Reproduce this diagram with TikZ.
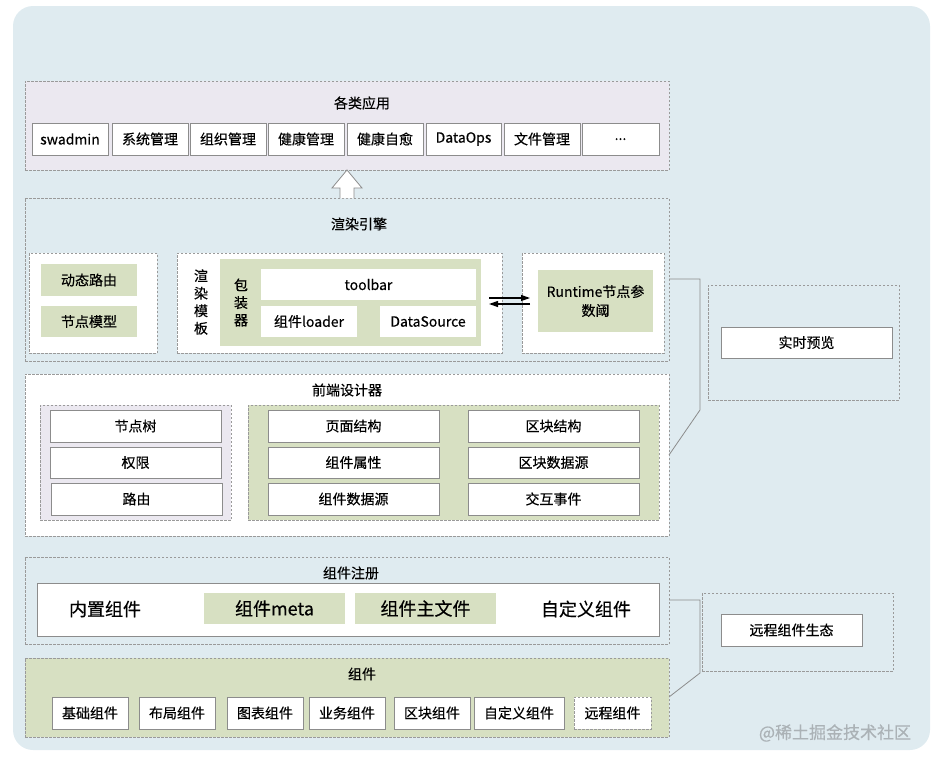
\documentclass[tikz,border=0pt]{standalone}
\usepackage{fontspec}
\setmainfont{Noto Sans CJK SC}[FakeBold=0.35]
\usetikzlibrary{arrows.meta}
\definecolor{bg}{HTML}{DFEBF0}
\definecolor{lav}{HTML}{EBE8F0}
\definecolor{grn}{HTML}{D7E0C2}
\definecolor{dline}{HTML}{9A9A9A}
\definecolor{bline}{HTML}{8C8C8C}
\definecolor{wm}{HTML}{ABB2B6}
\newcommand{\bx}[7]{\node[#1, minimum width={(#5-#3)*1pt}, minimum height={(#6-#4)*1pt}] (#2) at ({(#3+#5)/2},{(#4+#6)/2}) {#7};}
\tikzset{
  box/.style={inner sep=0pt, outer sep=0pt, font=\fontsize{14}{17}\selectfont, text=black},
  dsh/.style={box, draw=dline, line width=0.9pt, dash pattern=on 2.5pt off 1.5pt},
  wb/.style={box, draw=bline, fill=white, line width=0.9pt},
  gb/.style={box, fill=grn},
  txt/.style={inner sep=0pt, font=\fontsize{14}{17}\selectfont, text=black},
  big/.style={inner sep=0pt, font=\fontsize{18}{21}\selectfont, text=black},
  conn/.style={draw=bline, line width=0.8pt},
  arr/.style={draw=black, line width=1.2pt, -{Triangle[length=9pt,width=6pt]}},
}
\begin{document}
\begin{tikzpicture}[x=1pt,y=-1pt]
\useasboundingbox (0,0) rectangle (937,763);
\fill[bg, rounded corners=20pt] (13,6) rectangle (930,750);

% ---------- apps ----------
\bx{dsh, fill=lav}{apps}{25}{81}{669}{170}{}
\node[txt] (tapps) at (362,103) {各类应用};
\bx{wb}{a1}{32}{123}{108}{155}{swadmin}
\bx{wb}{a2}{112}{123}{188}{155}{系统管理}
\bx{wb}{a3}{190}{123}{266}{155}{组织管理}
\bx{wb}{a4}{268}{123}{344}{155}{健康管理}
\bx{wb}{a5}{347}{123}{423}{155}{健康自愈}
\bx{wb}{a6}{426}{123}{501}{155}{DataOps}
\bx{wb}{a7}{504}{123}{580}{155}{文件管理}
\bx{wb}{a8}{582}{123}{659}{155}{\raisebox{-2pt}{...}}

% ---------- render engine ----------
\bx{dsh}{engine}{25}{198}{669}{361}{}
\draw[draw=bline, fill=white, line width=0.8pt] (340,198) -- (340,188) -- (332,188) -- (347,170) -- (362,188) -- (354,188) -- (354,198);
\node[txt] (tengine) at (359,224) {渲染引擎};
\bx{dsh, fill=white}{eleft}{29}{253}{157}{353}{}
\bx{gb}{route}{41}{264}{137}{296}{动态路由}
\bx{gb}{model}{41}{306}{137}{337}{节点模型}
\bx{dsh, fill=white}{emid}{177}{253}{502}{353}{}
\node[txt, align=center, font=\fontsize{14}{17.5}\selectfont] (tpl) at (201,302) {渲\\染\\模\\板};
\bx{gb}{wrap}{220}{259}{481}{346}{}
\node[txt, align=center, font=\fontsize{14}{17.5}\selectfont] (wrapt) at (241,302.5) {包\\装\\器};
\bx{box, fill=white}{toolbar}{261}{269}{476}{300}{toolbar}
\bx{box, fill=white}{loader}{261}{306}{357}{337}{组件loader}
\bx{box, fill=white}{dsrc}{380}{306}{476}{337}{DataSource}
\bx{dsh, fill=white}{eright}{522}{253}{664}{353}{}
\bx{gb, align=center, font=\fontsize{14}{19}\selectfont}{runtime}{538}{270}{653}{332}{Runtime节点参\\数阈}
\coordinate (p1) at (489,298);
\coordinate (p2) at (530,298);
\coordinate (p3) at (530,304);
\coordinate (p4) at (489,304);
\draw[arr] (p1) -- (p2);
\draw[arr] (p3) -- (p4);

% ---------- preview ----------
\bx{dsh}{prevout}{708}{285}{899}{400}{}
\bx{wb}{preview}{721}{327}{892}{358}{实时预览}

% ---------- designer ----------
\bx{dsh, fill=white}{designer}{25}{374}{669}{536}{}
\node[txt] (tdes) at (347,390) {前端设计器};
\bx{dsh, fill=lav}{dleft}{40}{405}{231}{520}{}
\bx{wb}{d1}{50}{410}{221}{442}{节点树}
\bx{wb}{d2}{50}{447}{221}{478}{权限}
\bx{wb}{d3}{51}{483}{222}{515}{路由}
\bx{dsh, fill=grn}{dright}{248}{405}{659}{520}{}
\bx{wb}{d4}{268}{410}{439}{442}{页面结构}
\bx{wb}{d5}{268}{447}{439}{478}{组件属性}
\bx{wb}{d6}{268}{483}{439}{515}{组件数据源}
\bx{wb}{d7}{468}{410}{639}{442}{区块结构}
\bx{wb}{d8}{468}{447}{639}{478}{区块数据源}
\bx{wb}{d9}{468}{483}{639}{515}{交互事件}

\draw[conn] (engine.east |- 0,279) -- (700,279) -- (700,410) -- (designer.east |- 0,455);

% ---------- registration ----------
\bx{dsh}{reg}{25}{557}{669}{644}{}
\node[txt] (treg) at (351,573) {组件注册};
\bx{wb}{regin}{37}{583}{659}{636}{}
\node[big] (builtin) at (105,609) {内置组件};
\bx{gb, font=\fontsize{18}{21}\selectfont}{meta}{204}{593}{345}{624}{组件meta}
\bx{gb, font=\fontsize{18}{21}\selectfont}{mainf}{355}{593}{496}{624}{组件主文件}
\node[big] (custom) at (586,609) {自定义组件};

% ---------- components ----------
\bx{dsh, fill=grn}{comp}{25}{658}{669}{737}{}
\node[txt] (tcomp) at (362,674) {组件};
\bx{wb}{c1}{52}{697}{128}{729}{基础组件}
\bx{wb}{c2}{139}{697}{215}{729}{布局组件}
\bx{wb}{c3}{227}{697}{303}{729}{图表组件}
\bx{wb}{c4}{309}{697}{385}{729}{业务组件}
\bx{wb}{c5}{394}{697}{470}{729}{区块组件}
\bx{wb}{c6}{474}{697}{564}{729}{自定义组件}
\bx{dsh, fill=white}{c7}{574}{697}{651}{729}{远程组件}

\draw[conn] (reg.east |- 0,600) -- (700,600) -- (700,673) -- (comp.east |- 0,697);

% ---------- remote ----------
\bx{dsh}{remout}{702}{593}{893}{671}{}
\bx{wb}{remote}{721}{614}{862}{646}{远程组件生态}

\node[inner sep=0pt, font=\fontsize{17}{20}\selectfont, text=wm] (wmark) at (835,733) {@稀土掘金技术社区};
\end{tikzpicture}
\end{document}
